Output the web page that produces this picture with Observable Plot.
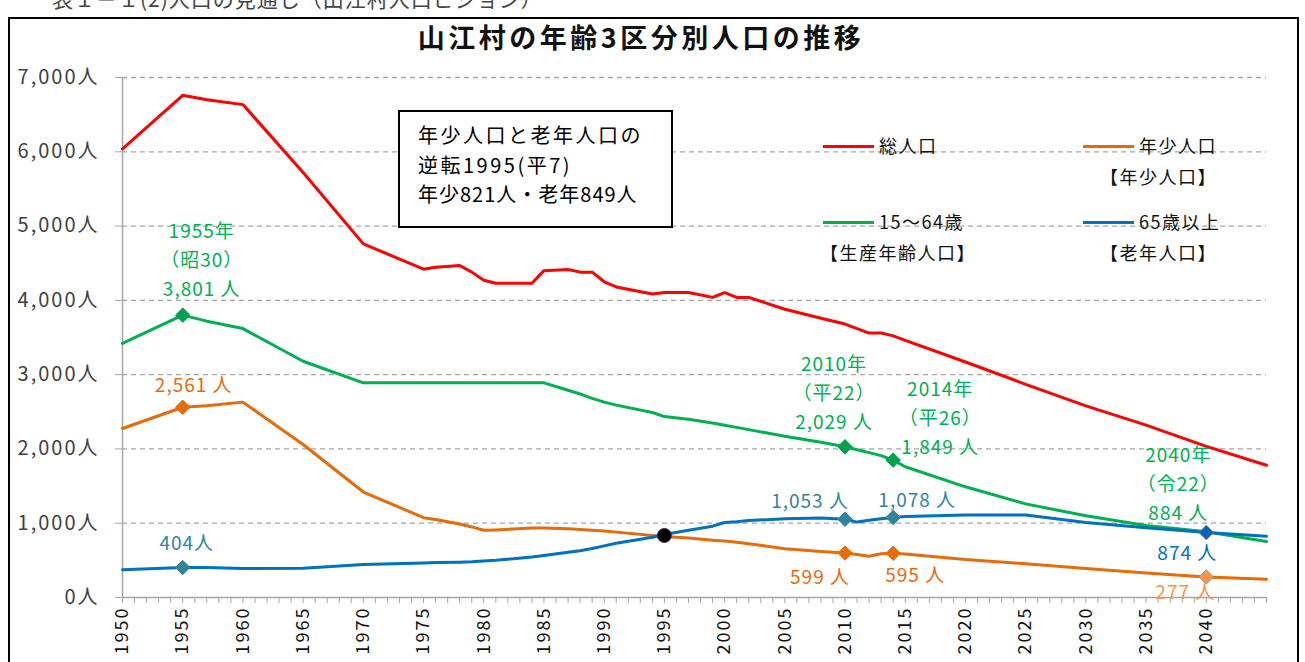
<!DOCTYPE html>
<html><head><meta charset="utf-8">
<script src="https://cdn.jsdelivr.net/npm/d3@7"></script>
<script src="https://cdn.jsdelivr.net/npm/@observablehq/plot@0.6"></script>
<style>
body{margin:0;background:#fff;font-family:"Noto Sans CJK JP","Noto Sans",sans-serif;}
#wrap{position:relative;width:1305px;height:662px;overflow:hidden;background:#fff;}
#chart{position:absolute;left:0;top:0;}
#frame{position:absolute;left:8px;top:17px;width:1291px;height:700px;border:2px solid #000;box-sizing:border-box;pointer-events:none;}
#pre{position:absolute;left:52px;top:-17px;font-size:21px;color:#444;white-space:nowrap;letter-spacing:1px;}
#title{position:absolute;left:0;width:1282px;top:17px;text-align:center;font-weight:bold;font-size:27px;letter-spacing:3.5px;color:#111;}
#box{position:absolute;left:398px;top:110px;width:275px;height:118px;border:2px solid #000;box-sizing:border-box;background:#fff;}
#box div{position:absolute;left:18px;font-size:20px;letter-spacing:2.5px;color:#000;white-space:nowrap;line-height:1;}
.lg{position:absolute;font-size:18px;letter-spacing:1.5px;color:#111;white-space:nowrap;line-height:1;}
.sw{position:absolute;width:51px;height:3px;}
svg text{font-family:"Noto Sans CJK JP","Noto Sans",sans-serif;}
</style></head>
<body><div id="wrap"></div>
<script>
// ---- data ----
const years   = [1950,1955,1957,1960,1965,1970,1975,1976,1978,1979,1980,1981,1984,1985,1987,1988,1989,1990,1991,1994,1995,1997,1999,2000,2001,2002,2005,2008,2010,2011,2012,2013,2014,2015,2020,2025,2030,2035,2040,2045];
const total   = [6040,6760,6700,6635,5720,4760,4420,4445,4470,4380,4270,4230,4230,4400,4415,4380,4380,4250,4180,4085,4105,4105,4040,4105,4040,4040,3880,3760,3681,3620,3560,3560,3522,3460,3170,2870,2580,2320,2035,1780];
const young   = [2275,2561,2580,2630,2060,1420,1075,1050,990,950,905,910,935,935,925,915,905,895,880,835,821,800,770,760,745,725,655,620,599,580,555,590,595,585,510,455,390,330,277,245];
const working = [3420,3801,3720,3620,3180,2890,2890,2890,2890,2890,2890,2890,2890,2890,2790,2740,2680,2630,2590,2490,2435,2400,2350,2320,2290,2260,2170,2090,2029,1990,1950,1910,1849,1760,1490,1260,1100,970,884,755];
const old     = [375,404,405,390,395,445,465,470,475,480,490,500,545,565,610,630,660,695,730,810,849,905,960,1010,1020,1035,1060,1070,1053,1015,1040,1060,1078,1090,1110,1110,1010,940,874,825];
const yTicks = [0,1000,2000,3000,4000,5000,6000,7000];
const xLabelYears = [1950,1955,1960,1965,1970,1975,1980,1985,1990,1995,2000,2005,2010,2015,2020,2025,2030,2035,2040];
const xMinorYears = d3.range(1950, 2046);
const markYears = [1955, 2010, 2014];
const forecastYear = 2040;
const crossYear = 1995;

const seriesNames = ["総人口","年少人口","15～64歳","65歳以上"];
const seriesValues = {"総人口": total, "年少人口": young, "15～64歳": working, "65歳以上": old};
const lineColors = {"総人口":"#FF0000","年少人口":"#E46C0A","15～64歳":"#00B050","65歳以上":"#0070C0"};

const table = seriesNames.flatMap(s => years.map((y,i) => ({series:s, year:y, value:seriesValues[s][i]})));
const valueAt = (s, y) => seriesValues[s][years.indexOf(y)];

// annotation labels (text content + placement relative to the point)
const notes = [
  {s:"15～64歳", year:1955, lines:["1955年","（昭30）","3,801 人"], dx:19, dy:-25, color:"#00B050"},
  {s:"年少人口", year:1955, lines:["2,561 人"], dx:11, dy:-21, color:"#E46C0A"},
  {s:"65歳以上", year:1955, lines:["404人"], dx:4, dy:-24, color:"#31849B"},
  {s:"15～64歳", year:2010, lines:["2010年","（平22）","2,029 人"], dx:-11, dy:-24, color:"#00B050"},
  {s:"15～64歳", year:2014, lines:["2014年","（平26）","1,849 人"], dx:47, dy:-12, color:"#00B050"},
  {s:"65歳以上", year:2010, lines:["1,053 人"], dx:-35, dy:-17, color:"#31849B"},
  {s:"65歳以上", year:2014, lines:["1,078 人"], dx:24, dy:-17, color:"#31849B"},
  {s:"年少人口", year:2010, lines:["599 人"], dx:-25, dy:25, color:"#E46C0A"},
  {s:"年少人口", year:2014, lines:["595 人"], dx:22, dy:23, color:"#E46C0A"},
  {s:"15～64歳", year:2040, lines:["2040年","（令22）","884 人"], dx:-28, dy:-18, color:"#00B050"},
  {s:"65歳以上", year:2040, lines:["874 人"], dx:-19, dy:21, color:"#0070C0"},
  {s:"年少人口", year:2040, lines:["277 人"], dx:-21, dy:16, color:"#F79646"}
];
const noteRows = notes.flatMap(n => n.lines.map((t,i) => ({
  year:n.year, value:valueAt(n.s, n.year), text:t, dx:n.dx, dy:n.dy - (n.lines.length-1-i)*29, color:n.color
})));

const markerSets = [
  {s:"15～64歳", fill:"#00A050"},
  {s:"年少人口", fill:"#E46C0A"},
  {s:"65歳以上", fill:"#31849B"}
];
const markerRows = markerSets.flatMap(m => markYears.map(y => ({year:y, value:valueAt(m.s,y), fill:m.fill, stroke:m.fill})));
markerRows.push({year:forecastYear, value:valueAt("65歳以上",forecastYear), fill:"#0A62B8", stroke:"#5D6FA8"});
markerRows.push({year:forecastYear, value:valueAt("年少人口",forecastYear), fill:"#F79646", stroke:"#8A9BB5"});
const crossRow = [{year:crossYear, value:(valueAt("年少人口",crossYear)+valueAt("65歳以上",crossYear))/2}];

const plot = Plot.plot({
  width:1305, height:662,
  marginLeft:122, marginRight:39, marginTop:77, marginBottom:65,
  x:{type:"linear", domain:[1950,2045], label:null},
  y:{domain:[0,7000], label:null},
  style:{fontFamily:'"Noto Sans CJK JP","Noto Sans",sans-serif', background:"transparent", overflow:"visible"},
  marks:[
    Plot.gridY(yTicks.filter(d=>d>0), {stroke:"#a6a6a6", strokeOpacity:1, strokeWidth:1.3, strokeDasharray:"5,4"}),
    Plot.ruleX([1950], {stroke:"#a6a6a6", strokeWidth:1.5}),
    Plot.axisY({ticks:yTicks, tickSize:7, tickPadding:16, stroke:"#a6a6a6", fill:"#404040", fontSize:20, label:null,
      tickFormat:d=>d3.format(",")(d)+"人"}),
    Plot.axisX({ticks:xMinorYears, tickSize:6, stroke:"#a6a6a6", tickFormat:()=>"", label:null}),
    Plot.axisX({ticks:xLabelYears, tickSize:0, tickPadding:9, tickRotate:-90, fill:"#111", fontSize:18, label:null,
      tickFormat:d=>String(d)}),
    Plot.line(table, {x:"year", y:"value", z:"series", stroke:d=>lineColors[d.series], strokeWidth:3, curve:"linear"}),
    Plot.ruleY([0], {stroke:"#a6a6a6", strokeWidth:1.5}),
    Plot.dot(markerRows, {x:"year", y:"value", symbol:"diamond2", r:6.5, fill:"fill", stroke:"stroke", strokeWidth:1}),
    Plot.dot(crossRow, {x:"year", y:"value", r:7, fill:"#000", stroke:"#3a2a4a", strokeWidth:1}),
    Plot.text(noteRows, {x:"year", y:"value", text:"text", fill:"color", fontSize:19, lineAnchor:"middle"})
  ]
});
const wrap = document.getElementById("wrap");
plot.id = "chart";
wrap.appendChild(plot);
// per-label offsets
d3.select(plot).selectAll('g[aria-label="text"] text').each(function(d,i){
  const r = noteRows[i];
  const t = d3.select(this);
  const tr = t.attr("transform") || "";
  t.attr("transform", tr + ` translate(${r.dx},${r.dy})`);
});
d3.select(plot).selectAll('g[aria-label="text"] text').style("letter-spacing","1px");
d3.select(plot).selectAll('g[aria-label="y-axis tick label"] text').style("letter-spacing","2px");
d3.select(plot).selectAll('g[aria-label="x-axis tick label"] text').style("letter-spacing","2px");

wrap.insertAdjacentHTML("beforeend", `
<div id="pre">表１－１(2)人口の見通し（山江村人口ビジョン）</div>
<div id="frame"></div>
<div id="title">山江村の年齢3区分別人口の推移</div>
<div id="box">
 <div style="top:13px">年少人口と老年人口の</div>
 <div style="top:43px">逆転1995(平7)</div>
 <div style="top:72px;letter-spacing:1px">年少821人・老年849人</div>
</div>
`);
const legendItems = [
  {name:"総人口", sub:null, x:823, y:146, subX:null},
  {name:"年少人口", sub:"【年少人口】", x:1083, y:146, subX:1100},
  {name:"15～64歳", sub:"【生産年齢人口】", x:823, y:222, subX:820},
  {name:"65歳以上", sub:"【老年人口】", x:1083, y:222, subX:1100}
];
legendItems.forEach(it => {
  wrap.insertAdjacentHTML("beforeend",
    `<div class="sw" style="left:${it.x}px;top:${it.y-1}px;background:${lineColors[it.name]}"></div>
     <div class="lg" style="left:${it.x+56}px;top:${it.y-10}px">${it.name}</div>` +
    (it.sub ? `<div class="lg" style="left:${it.subX}px;top:${it.y+21}px">${it.sub}</div>` : ""));
});
</script>
</body></html>
